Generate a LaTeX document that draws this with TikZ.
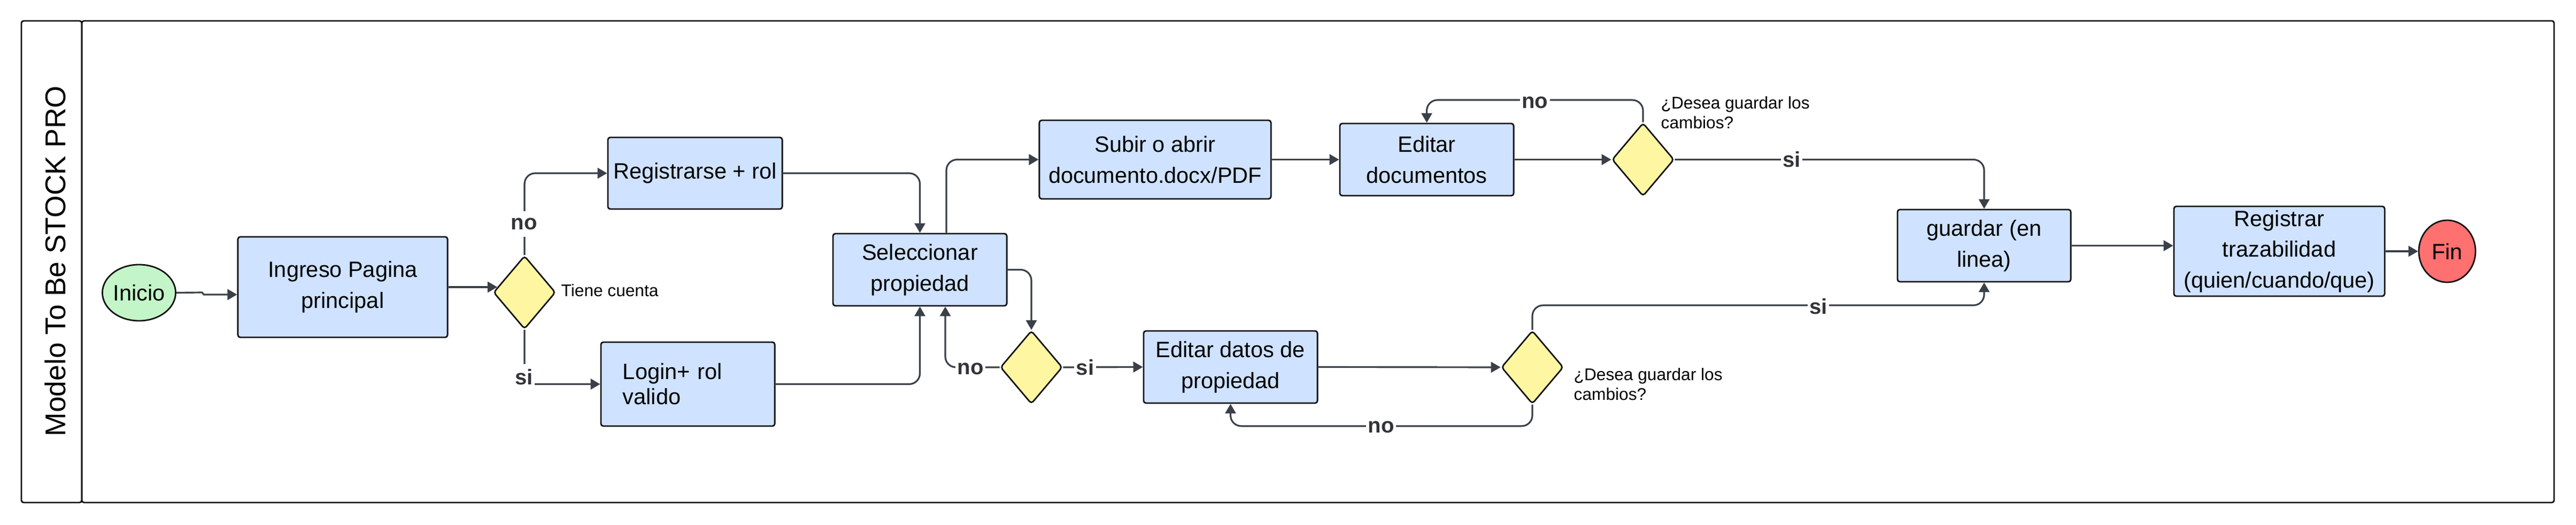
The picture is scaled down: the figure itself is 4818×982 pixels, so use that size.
\documentclass[tikz,border=0pt]{standalone}
\usepackage{fontspec}
\setmainfont{Liberation Sans}
\usetikzlibrary{shapes.geometric,arrows.meta,calc}
\definecolor{boxfill}{RGB}{207,226,255}
\definecolor{decfill}{RGB}{255,246,161}
\definecolor{startfill}{RGB}{195,245,200}
\definecolor{endfill}{RGB}{255,112,112}
\definecolor{conncol}{RGB}{58,64,72}
\definecolor{lblcol}{RGB}{50,52,56}
\definecolor{edgecol}{RGB}{20,20,20}
\begin{document}
\begin{tikzpicture}[x=0.01cm,y=-0.01cm,
  proc/.style={draw=edgecol, line width=0.8pt, fill=boxfill, rounded corners=1.3pt, inner sep=0pt, align=center, font=\fontsize{11.8pt}{16.4pt}\selectfont},
  dec/.style={diamond, draw=edgecol, line width=0.8pt, fill=decfill, rounded corners=1.5pt, inner sep=0pt, minimum width=1.16cm, minimum height=1.37cm},
  term/.style={ellipse, draw=edgecol, line width=0.8pt, inner sep=0pt, font=\fontsize{11.8pt}{14pt}\selectfont},
  conn/.style={draw=conncol, line width=0.9pt, rounded corners=0.2cm, -{Triangle[length=0.18cm,width=0.2cm]}},
  lbl/.style={fill=white, text=lblcol, font=\bfseries\fontsize{11.4pt}{13pt}\selectfont, inner xsep=1pt, inner ysep=0pt, minimum height=0.47cm},
  note/.style={inner sep=0pt, align=left, font=\fontsize{9pt}{10.4pt}\selectfont},
  lane/.style={draw=edgecol, line width=0.8pt, rounded corners=1.2pt}
]
\useasboundingbox (0,0) rectangle (4818,982);

% pool and lane
\draw[lane] (40,39) rectangle (153,940);
\draw[lane] (153,39) rectangle (4777,940);
\node[rotate=90, inner sep=0pt, font=\fontsize{15.2pt}{18pt}\selectfont] (title) at (103.5,488.5) {Modelo To Be STOCK PRO};

% nodes
\node[term, fill=startfill, minimum width=1.14cm, minimum height=1.05cm] (ini) at (260,547.5) {Inicio};
\node[proc, minimum width=3.92cm, minimum height=1.88cm] (ing) at (641,537) {Ingreso Pagina\\principal};
\node[dec] (d1) at (981,547) {};
\node[proc, minimum width=3.26cm, minimum height=1.34cm] (reg) at (1300,324) {Registrarse + rol};
\node[proc, minimum width=3.25cm, minimum height=1.57cm, text width=2.43cm, align=left, font=\fontsize{11.8pt}{13.3pt}\selectfont] (login) at (1286.5,718.5) {Login+ rol\\valido};
\node[proc, minimum width=3.25cm, minimum height=1.35cm] (sel) at (1720.5,504.5) {Seleccionar\\propiedad};
\node[proc, minimum width=4.33cm, minimum height=1.47cm] (sub) at (2160.5,298.5) {Subir o abrir\\documento.docx/PDF};
\node[proc, minimum width=3.25cm, minimum height=1.35cm] (edoc) at (2668.5,298.5) {Editar\\documentos};
\node[dec] (d3) at (3073,298.5) {};
\node[dec] (d2) at (1929,687) {};
\node[proc, minimum width=3.25cm, minimum height=1.35cm] (edat) at (2301.5,686.5) {Editar datos de\\propiedad};
\node[dec] (d4) at (2866,687) {};
\node[proc, minimum width=3.24cm, minimum height=1.35cm] (guard) at (3711,459.5) {guardar (en\\linea)};
\node[proc, minimum width=3.94cm, minimum height=1.68cm] (regt) at (4263,470) {Registrar\\trazabilidad\\(quien/cuando/que)};
\node[term, fill=endfill, minimum width=1.06cm, minimum height=1.16cm] (fin) at (4577,470) {Fin};

% notes
\node[note, anchor=west] (tc) at (1049,543) {Tiene cuenta};
\node[note, anchor=north west] (q3) at (3106,180) {¿Desea guardar los\\cambios?};
\node[note, anchor=north west] (q4) at (2943,688) {¿Desea guardar los\\cambios?};

% connectors
\draw[conn, rounded corners=0pt] (ini.east) -- (378,547) -- (381,551) -- ($(ing.west)+(0,14)$);
\draw[conn] (ing.east) -- ($(ing.east -| d1.west)+(8.5,0)$);
\draw[conn] (d1.north) |- (reg.west);
\draw[conn] (d1.south) |- (login.west);
\draw[conn] (reg.east) -| (sel.north);
\draw[conn] (login.east) -| (sel.south);
\draw[conn] ($(sel.north)+(49.5,0)$) |- (sub.west);
\draw[conn] (sel.east) -| (d2.north);
\draw[conn] (d2.west) -| ($(sel.south)+(47.5,0)$);
\draw[conn] (d2.east) -- (edat.west);
\draw[conn] (sub.east) -- (edoc.west);
\draw[conn] (edoc.east) -- (d3.west);
\draw[conn] (d3.north) -- ++(0,-41.5) -| (edoc.north);
\draw[conn] (d3.east) -| (guard.north);
\draw[conn] (edat.east) -- (d4.west);
\draw[conn] (d4.north) -- ++(0,-46) -| (guard.south);
\draw[conn] (d4.south) -- ++(0,40) -| (edat.south);
\draw[conn] (guard.east) -- (guard.east -| regt.west);
\draw[conn] (regt.east) -- (fin.west);

% connector labels
\node[lbl] (lno1) at (980,419) {no};
\node[lbl] (lsi1) at (980,705) {si};
\node[lbl] (lno2) at (1815,690) {no};
\node[lbl] (lsi2) at (2029.5,687) {si};
\node[lbl] (lno3) at (2870.5,191.5) {no};
\node[lbl] (lsi3) at (3351,298.5) {si};
\node[lbl] (lsi4) at (3401,573) {si};
\node[lbl] (lno4) at (2583,799) {no};
\end{tikzpicture}
\end{document}
